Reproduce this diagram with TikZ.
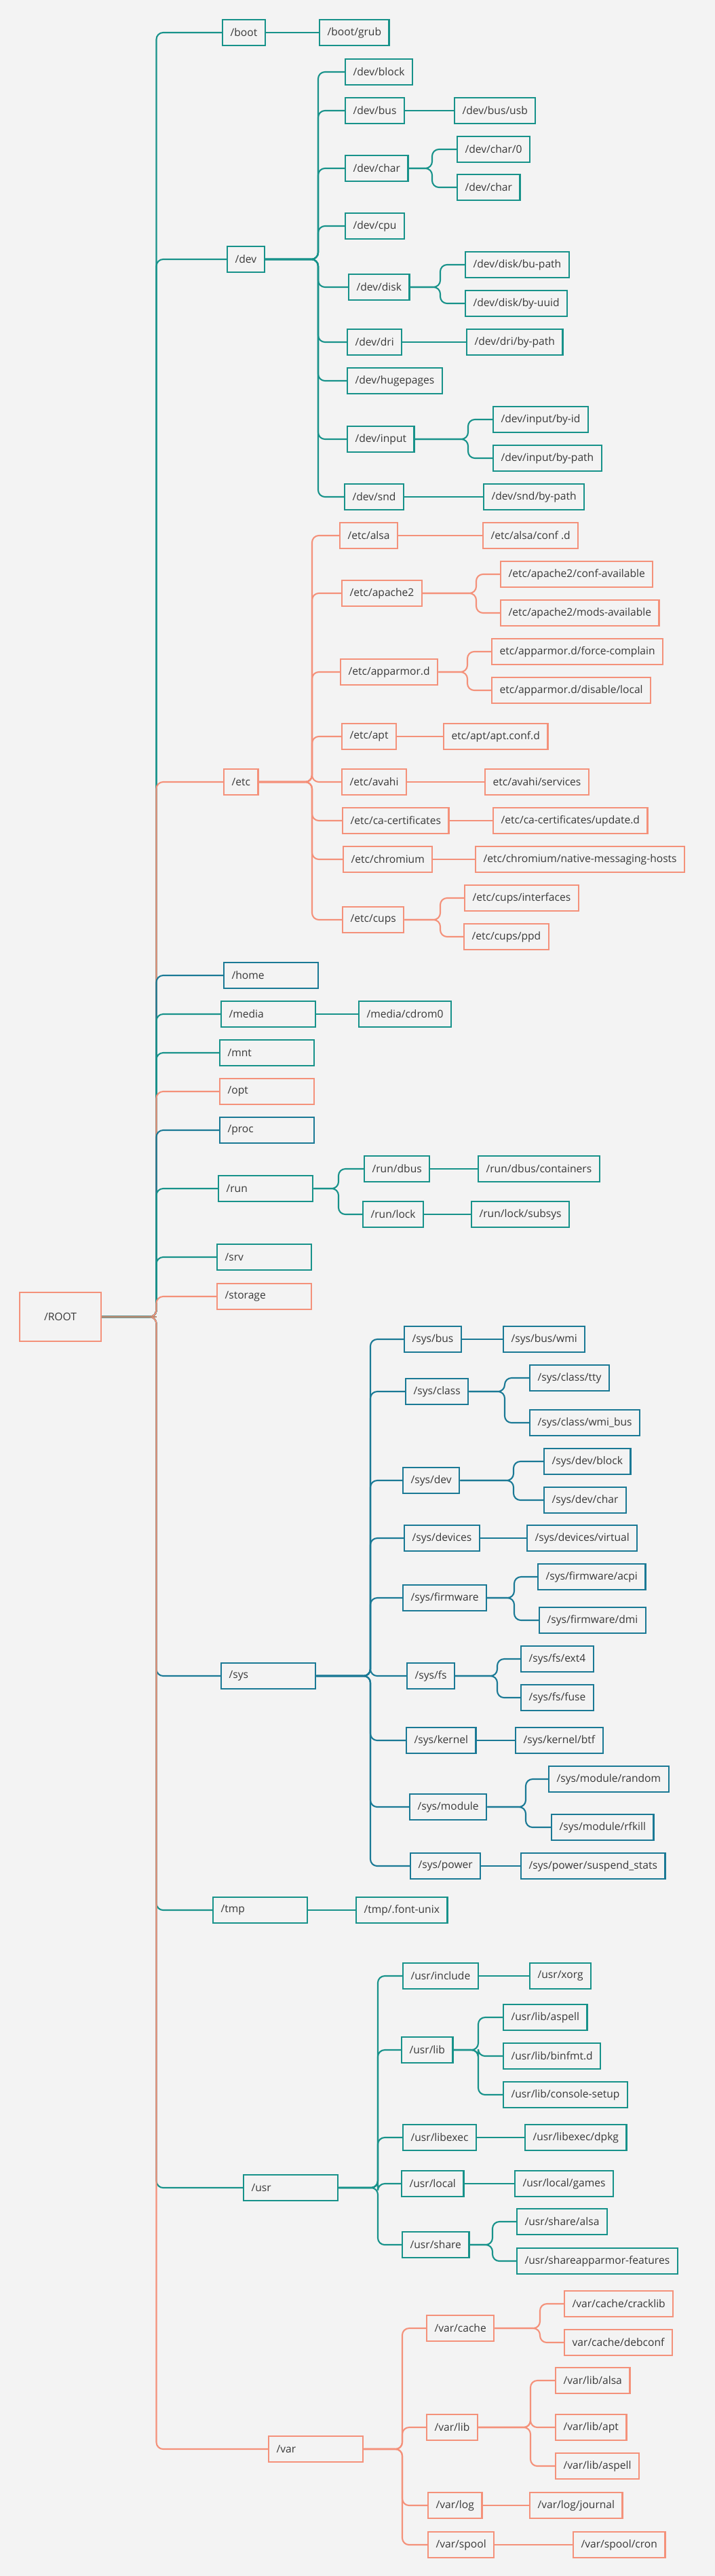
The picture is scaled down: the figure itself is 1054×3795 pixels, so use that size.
\documentclass[tikz,border=0pt]{standalone}
\usepackage{fontspec}
\setmainfont{Open Sans}
\definecolor{bgc}{HTML}{F3F3F3}
\definecolor{tl}{HTML}{17928A}
\definecolor{bl}{HTML}{1A7995}
\definecolor{og}{HTML}{F4917A}
\definecolor{stubc}{HTML}{C08A70}
\definecolor{txt}{HTML}{383838}
\newcommand\fs{\fontsize{15.6}{18}\selectfont}
\tikzset{
  box/.style={draw=#1, line width=2.3, anchor=west, minimum height=37.5,
    inner xsep=11.5, inner ysep=0, text=txt, font=\fs},
  fixed/.style={text width=116, align=left},
  ln/.style={draw=#1, line width=2.1, rounded corners=10},
}
\newcommand\tbx[5]{\node[box=#1] (#2) at (#3,#4) {#5};}
\newcommand\tbf[5]{\node[box=#1, fixed] (#2) at (#3,#4) {#5};}
\newcommand\tlk[4]{\draw[ln=#1] (#2.east) -- (#3) |- (#4.west);}
\newcommand\tsl[3]{\draw[ln=#1] (#2.east) -- (#3.west);}
\begin{document}
\begin{tikzpicture}[x=1pt,y=-1pt]
\fill[bgc] (0,0) rectangle (1054,3795);
\useasboundingbox (0,0) rectangle (1054,3795);

% ROOT
\node[draw=og, line width=2.3, minimum width=120, minimum height=72, inner sep=0, text=txt, font=\fs] (root) at (89,1940) {/ROOT};
\coordinate (rootJ) at (230.5,1940);

% level 1
\tbx{tl}{boot}{327}{48}{/boot}
\tbx{tl}{dev}{334}{382}{/dev}
\tbx{og}{etc}{329}{1152}{/etc}
\tbf{bl}{home}{329}{1437}{/home}
\tbf{tl}{media}{325}{1494}{/media}
\tbf{tl}{mnt}{323}{1551}{/mnt}
\tbf{og}{opt}{323}{1608}{/opt}
\tbf{bl}{proc}{323}{1665}{/proc}
\tbf{tl}{run}{321}{1751}{/run}
\tbf{tl}{srv}{319}{1852}{/srv}
\tbf{og}{storage}{319}{1910}{/storage}
\tbf{bl}{sys}{325}{2469}{/sys}
\tbf{tl}{tmp}{313}{2814}{/tmp}
\tbf{tl}{usr}{358}{3223}{/usr}
\tbf{og}{var}{395}{3608}{/var}

% boot
\tbx{tl}{bootgrub}{470}{48}{/boot/grub}
% dev
\coordinate (devJ) at (469,382);
\tbx{tl}{devblock}{508}{106}{/dev/block}
\tbx{tl}{devbus}{508}{163}{/dev/bus}
\tbx{tl}{devbususb}{669}{163}{/dev/bus/usb}
\tbx{tl}{devchar}{508}{248}{/dev/char}
\coordinate (devcharJ) at (637,248);
\tbx{tl}{devcharzero}{673}{220}{/dev/char/0}
\tbx{tl}{devchartwo}{673}{276}{/dev/char}
\tbx{tl}{devcpu}{508}{333}{/dev/cpu}
\tbx{tl}{devdisk}{513}{423}{/dev/disk}
\coordinate (devdiskJ) at (649,423);
\tbx{tl}{diskbupath}{685}{390}{/dev/disk/bu-path}
\tbx{tl}{diskbyuuid}{685}{447}{/dev/disk/by-uuid}
\tbx{tl}{devdri}{511}{504}{/dev/dri}
\tbx{tl}{dribypath}{687}{504}{/dev/dri/by-path}
\tbx{tl}{devhuge}{511}{561}{/dev/hugepages}
\tbx{tl}{devinput}{511}{647}{/dev/input}
\coordinate (devinputJ) at (690,647);
\tbx{tl}{inputbyid}{726}{618}{/dev/input/by-id}
\tbx{tl}{inputbypath}{726}{675}{/dev/input/by-path}
\tbx{tl}{devsnd}{507}{732}{/dev/snd}
\tbx{tl}{sndbypath}{712}{732}{/dev/snd/by-path}
% etc
\coordinate (etcJ) at (460,1152);
\tbx{og}{etcalsa}{500}{789}{/etc/alsa}
\tbx{og}{alsaconf}{711}{789}{/etc/alsa/conf .d}
\tbx{og}{etcapache}{503}{874}{/etc/apache2}
\coordinate (etcapacheJ) at (702,874);
\tbx{og}{confavail}{737}{846}{/etc/apache2/conf-available}
\tbx{og}{modsavail}{737}{903}{/etc/apache2/mods-available}
\tbx{og}{etcapparmor}{501}{990}{/etc/apparmor.d}
\coordinate (etcapparmorJ) at (689,990);
\tbx{og}{forcecomplain}{724}{960}{etc/apparmor.d/force-complain}
\tbx{og}{disablelocal}{724}{1017}{etc/apparmor.d/disable/local}
\tbx{og}{etcapt}{503}{1085}{/etc/apt}
\tbx{og}{aptconf}{653}{1085}{etc/apt/apt.conf.d}
\tbx{og}{etcavahi}{503}{1152}{/etc/avahi}
\tbx{og}{avahiservices}{714}{1152}{etc/avahi/services}
\tbx{og}{etcca}{504}{1209}{/etc/ca-certificates}
\tbx{og}{caupdate}{726}{1209}{/etc/ca-certificates/update.d}
\tbx{og}{etcchromium}{505}{1266}{/etc/chromium}
\tbx{og}{chromiumnative}{700}{1266}{/etc/chromium/native-messaging-hosts}
\tbx{og}{etccups}{504}{1355}{/etc/cups}
\coordinate (etccupsJ) at (649,1355);
\tbx{og}{cupsint}{684}{1323}{/etc/cups/interfaces}
\tbx{og}{cupsppd}{683}{1380}{/etc/cups/ppd}
% media
\tbx{tl}{mediacdrom}{528}{1494}{/media/cdrom0}
% run
\coordinate (runJ) at (499,1751);
\tbx{tl}{rundbus}{536}{1722}{/run/dbus}
\tbx{tl}{dbuscont}{704}{1722}{/run/dbus/containers}
\tbx{tl}{runlock}{534}{1789}{/run/lock}
\tbx{tl}{locksubsys}{694}{1789}{/run/lock/subsys}
% sys
\coordinate (sysJ) at (546,2469);
\tbx{bl}{sysbus}{595}{1973}{/sys/bus}
\tbx{bl}{buswmi}{741}{1973}{/sys/bus/wmi}
\tbx{bl}{sysclass}{597}{2050}{/sys/class}
\coordinate (sysclassJ) at (744,2050);
\tbx{bl}{classtty}{780}{2030}{/sys/class/tty}
\tbx{bl}{classwmi}{780}{2096}{/sys/class/wmi\_bus}
\tbx{bl}{sysdev}{593}{2181}{/sys/dev}
\coordinate (sysdevJ) at (757,2181);
\tbx{bl}{sdblock}{801}{2153}{/sys/dev/block}
\tbx{bl}{sdchar}{801}{2210}{/sys/dev/char}
\tbx{bl}{sysdevices}{595}{2266}{/sys/devices}
\tbx{bl}{devvirtual}{776}{2266}{/sys/devices/virtual}
\tbx{bl}{sysfirmware}{593}{2354}{/sys/firmware}
\coordinate (sysfirmwareJ) at (758,2354);
\tbx{bl}{fwacpi}{792}{2323}{/sys/firmware/acpi}
\tbx{bl}{fwdmi}{794}{2387}{/sys/firmware/dmi}
\tbx{bl}{sysfs}{599}{2469}{/sys/fs}
\coordinate (sysfsJ) at (733,2469);
\tbx{bl}{fsext}{767}{2444}{/sys/fs/ext4}
\tbx{bl}{fsfuse}{767}{2501}{/sys/fs/fuse}
\tbx{bl}{syskernel}{598}{2564}{/sys/kernel}
\tbx{bl}{kernelbtf}{759}{2564}{/sys/kernel/btf}
\tbx{bl}{sysmodule}{603}{2662}{/sys/module}
\coordinate (sysmoduleJ) at (775,2662);
\tbx{bl}{modrandom}{808}{2621}{/sys/module/random}
\tbx{bl}{modrfkill}{812}{2692}{/sys/module/rfkill}
\tbx{bl}{syspower}{604}{2749}{/sys/power}
\tbx{bl}{powerstats}{767}{2749}{/sys/power/suspend\_stats}
% tmp
\tbx{tl}{tmpfont}{524}{2814}{/tmp/.font-unix}
% usr
\coordinate (usrJ) at (557,3223);
\tbx{tl}{usrinclude}{593}{2911}{/usr/include}
\tbx{tl}{usrxorg}{780}{2911}{/usr/xorg}
\tbx{tl}{usrlib}{591}{3020}{/usr/lib}
\coordinate (usrlibJ) at (705,3020);
\tbx{tl}{libaspell}{741}{2972}{/usr/lib/aspell}
\tbx{tl}{libbinfmt}{741}{3029}{/usr/lib/binfmt.d}
\tbx{tl}{libconsole}{741}{3086}{/usr/lib/console-setup}
\tbx{tl}{usrlibexec}{593}{3149}{/usr/libexec}
\tbx{tl}{libexecdpkg}{773}{3149}{/usr/libexec/dpkg}
\tbx{tl}{usrlocal}{591}{3217}{/usr/local}
\tbx{tl}{localgames}{758}{3217}{/usr/local/games}
\tbx{tl}{usrshare}{592}{3307}{/usr/share}
\coordinate (usrshareJ) at (726,3307);
\tbx{tl}{sharealsa}{761}{3273}{/usr/share/alsa}
\tbx{tl}{shareapparmor}{761}{3331}{/usr/shareapparmor-features}
% var
\coordinate (varJ) at (593,3608);
\tbx{og}{varcache}{628}{3430}{/var/cache}
\coordinate (varcacheJ) at (796,3430);
\tbx{og}{cracklib}{831}{3394}{/var/cache/cracklib}
\tbx{og}{debconf}{831}{3451}{var/cache/debconf}
\tbx{og}{varlib}{628}{3576}{/var/lib}
\coordinate (varlibJ) at (782,3576);
\tbx{og}{vlalsa}{818}{3507}{/var/lib/alsa}
\tbx{og}{vlapt}{818}{3576}{/var/lib/apt}
\tbx{og}{vlaspell}{818}{3633}{/var/lib/aspell}
\tbx{og}{varlog}{630}{3691}{/var/log}
\tbx{og}{logjournal}{780}{3691}{/var/log/journal}
\tbx{og}{varspool}{630}{3749}{/var/spool}
\tbx{og}{spoolcron}{844}{3749}{/var/spool/cron}

% root connectors (top to bottom)
\tlk{tl}{root}{rootJ}{boot}
\tlk{tl}{root}{rootJ}{dev}
\tlk{og}{root}{rootJ}{etc}
\tlk{bl}{root}{rootJ}{home}
\tlk{tl}{root}{rootJ}{media}
\tlk{tl}{root}{rootJ}{mnt}
\tlk{og}{root}{rootJ}{opt}
\tlk{bl}{root}{rootJ}{proc}
\tlk{tl}{root}{rootJ}{run}
\tlk{tl}{root}{rootJ}{srv}
\tlk{og}{root}{rootJ}{storage}
\tlk{bl}{root}{rootJ}{sys}
\tlk{tl}{root}{rootJ}{tmp}
\tlk{tl}{root}{rootJ}{usr}
\tlk{og}{root}{rootJ}{var}
\draw[ln=stubc] (root.east) -- (rootJ);

% boot
\tsl{tl}{boot}{bootgrub}
% dev
\tlk{tl}{dev}{devJ}{devblock}
\tlk{tl}{dev}{devJ}{devbus}
\tlk{tl}{dev}{devJ}{devchar}
\tlk{tl}{dev}{devJ}{devcpu}
\tlk{tl}{dev}{devJ}{devdisk}
\tlk{tl}{dev}{devJ}{devdri}
\tlk{tl}{dev}{devJ}{devhuge}
\tlk{tl}{dev}{devJ}{devinput}
\tlk{tl}{dev}{devJ}{devsnd}
\tsl{tl}{devbus}{devbususb}
\tlk{tl}{devchar}{devcharJ}{devcharzero}
\tlk{tl}{devchar}{devcharJ}{devchartwo}
\tlk{tl}{devdisk}{devdiskJ}{diskbupath}
\tlk{tl}{devdisk}{devdiskJ}{diskbyuuid}
\tsl{tl}{devdri}{dribypath}
\tlk{tl}{devinput}{devinputJ}{inputbyid}
\tlk{tl}{devinput}{devinputJ}{inputbypath}
\tsl{tl}{devsnd}{sndbypath}
% etc
\tlk{og}{etc}{etcJ}{etcalsa}
\tlk{og}{etc}{etcJ}{etcapache}
\tlk{og}{etc}{etcJ}{etcapparmor}
\tlk{og}{etc}{etcJ}{etcapt}
\tlk{og}{etc}{etcJ}{etcavahi}
\tlk{og}{etc}{etcJ}{etcca}
\tlk{og}{etc}{etcJ}{etcchromium}
\tlk{og}{etc}{etcJ}{etccups}
\tsl{og}{etcalsa}{alsaconf}
\tlk{og}{etcapache}{etcapacheJ}{confavail}
\tlk{og}{etcapache}{etcapacheJ}{modsavail}
\tlk{og}{etcapparmor}{etcapparmorJ}{forcecomplain}
\tlk{og}{etcapparmor}{etcapparmorJ}{disablelocal}
\tsl{og}{etcapt}{aptconf}
\tsl{og}{etcavahi}{avahiservices}
\tsl{og}{etcca}{caupdate}
\tsl{og}{etcchromium}{chromiumnative}
\tlk{og}{etccups}{etccupsJ}{cupsint}
\tlk{og}{etccups}{etccupsJ}{cupsppd}
% media
\tsl{tl}{media}{mediacdrom}
% run
\tlk{tl}{run}{runJ}{rundbus}
\tlk{tl}{run}{runJ}{runlock}
\tsl{tl}{rundbus}{dbuscont}
\tsl{tl}{runlock}{locksubsys}
% sys
\tlk{bl}{sys}{sysJ}{sysbus}
\tlk{bl}{sys}{sysJ}{sysclass}
\tlk{bl}{sys}{sysJ}{sysdev}
\tlk{bl}{sys}{sysJ}{sysdevices}
\tlk{bl}{sys}{sysJ}{sysfirmware}
\tlk{bl}{sys}{sysJ}{sysfs}
\tlk{bl}{sys}{sysJ}{syskernel}
\tlk{bl}{sys}{sysJ}{sysmodule}
\tlk{bl}{sys}{sysJ}{syspower}
\tsl{bl}{sysbus}{buswmi}
\tlk{bl}{sysclass}{sysclassJ}{classtty}
\tlk{bl}{sysclass}{sysclassJ}{classwmi}
\tlk{bl}{sysdev}{sysdevJ}{sdblock}
\tlk{bl}{sysdev}{sysdevJ}{sdchar}
\tsl{bl}{sysdevices}{devvirtual}
\tlk{bl}{sysfirmware}{sysfirmwareJ}{fwacpi}
\tlk{bl}{sysfirmware}{sysfirmwareJ}{fwdmi}
\tlk{bl}{sysfs}{sysfsJ}{fsext}
\tlk{bl}{sysfs}{sysfsJ}{fsfuse}
\tsl{bl}{syskernel}{kernelbtf}
\tlk{bl}{sysmodule}{sysmoduleJ}{modrandom}
\tlk{bl}{sysmodule}{sysmoduleJ}{modrfkill}
\tsl{bl}{syspower}{powerstats}
% tmp
\tsl{tl}{tmp}{tmpfont}
% usr
\tlk{tl}{usr}{usrJ}{usrinclude}
\tlk{tl}{usr}{usrJ}{usrlib}
\tlk{tl}{usr}{usrJ}{usrlibexec}
\tlk{tl}{usr}{usrJ}{usrlocal}
\tlk{tl}{usr}{usrJ}{usrshare}
\tsl{tl}{usrinclude}{usrxorg}
\tlk{tl}{usrlib}{usrlibJ}{libaspell}
\tlk{tl}{usrlib}{usrlibJ}{libbinfmt}
\tlk{tl}{usrlib}{usrlibJ}{libconsole}
\tsl{tl}{usrlibexec}{libexecdpkg}
\tsl{tl}{usrlocal}{localgames}
\tlk{tl}{usrshare}{usrshareJ}{sharealsa}
\tlk{tl}{usrshare}{usrshareJ}{shareapparmor}
% var
\tlk{og}{var}{varJ}{varcache}
\tlk{og}{var}{varJ}{varlib}
\tlk{og}{var}{varJ}{varlog}
\tlk{og}{var}{varJ}{varspool}
\tlk{og}{varcache}{varcacheJ}{cracklib}
\tlk{og}{varcache}{varcacheJ}{debconf}
\tlk{og}{varlib}{varlibJ}{vlalsa}
\tlk{og}{varlib}{varlibJ}{vlapt}
\tlk{og}{varlib}{varlibJ}{vlaspell}
\tsl{og}{varlog}{logjournal}
\tsl{og}{varspool}{spoolcron}
\end{tikzpicture}
\end{document}
